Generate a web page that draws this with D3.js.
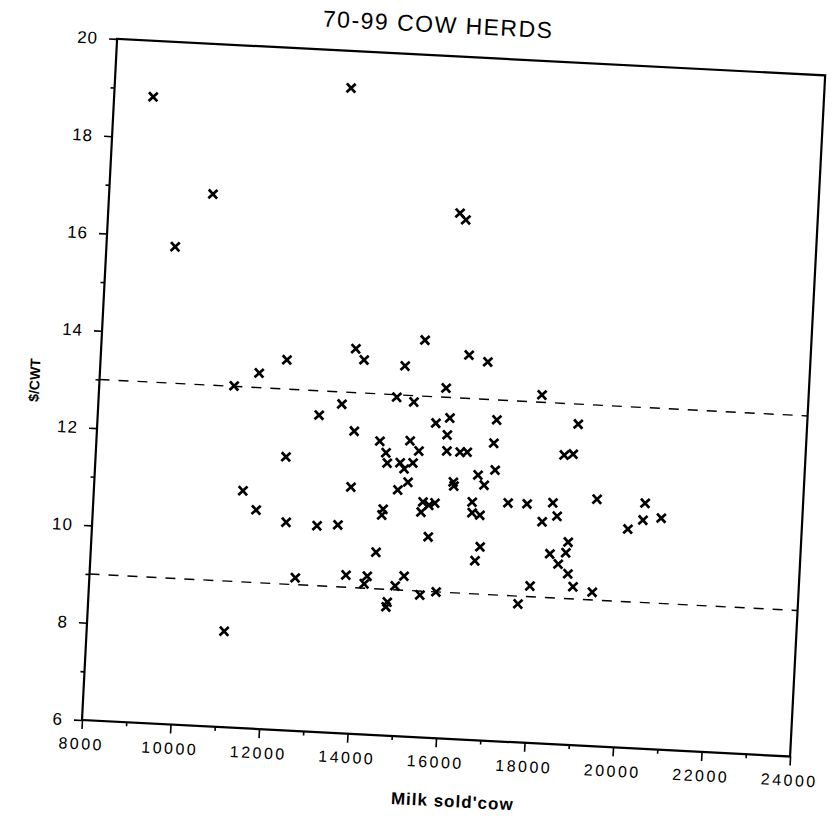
<!DOCTYPE html>
<html>
<head>
<meta charset="utf-8">
<script src="https://cdn.jsdelivr.net/npm/d3@7"></script>
<style>
  body { margin: 0; background: #fff; }
  svg { display: block; }
  text { font-family: "Liberation Sans", Arial, sans-serif; fill: #000; }
</style>
</head>
<body>
<div id="chart"></div>
<script>
// milk sold per cow (lbs) and $/CWT for each herd
const milkPerCow = [
  8880, 13330, 10340, 9550, 15930, 16070, 15290, 13740, 13940, 12200,
  11590, 14870, 16300, 16730, 11040, 15820, 14720, 15110, 17990, 13490,
  12990, 15940, 17000, 18840, 15630, 15900, 13800, 14390, 15070, 16960,
  15280, 15910, 16210, 16370, 14540, 12290, 18560, 18760, 14580, 14870,
  15160, 14970, 17020, 16640, 16790, 16090, 16110, 15070, 14850, 13790,
  11360, 11680, 14540, 14520, 15430, 15570, 15700, 15400, 16540, 16550,
  16730, 17350, 17780, 18360, 18470, 19350, 18140, 20440, 20410, 20820,
  20080, 12370, 13070, 13540, 15590, 16770, 16670, 18750, 18710, 18350,
  18550, 18780, 18910, 17940, 19350, 17690, 14430, 12640, 13780, 14260,
  14200, 15090, 14900, 15470, 15830, 14740, 14720, 11100
];
const dollarsPerCwt = [
  18.85, 19.24, 16.92, 15.80, 16.79, 16.66, 14.15, 13.90, 13.68, 13.60,
  13.30, 13.60, 13.89, 13.77, 13.01, 13.19, 12.95, 12.87, 13.15, 12.75,
  12.50, 12.58, 12.59, 12.59, 12.46, 12.23, 12.21, 12.03, 12.07, 12.11,
  11.87, 11.90, 11.89, 11.90, 11.80, 11.61, 11.94, 11.97, 11.59, 11.61,
  11.62, 11.49, 11.56, 11.44, 11.24, 11.27, 11.19, 11.22, 11.05, 11.06,
  10.87, 10.49, 10.64, 10.52, 10.83, 10.77, 10.82, 10.62, 10.88, 10.66,
  10.62, 10.90, 10.90, 10.95, 10.68, 11.07, 10.55, 11.04, 10.69, 10.75,
  10.49, 10.27, 10.23, 10.27, 10.12, 9.97, 9.68, 10.16, 9.94, 9.90,
  9.70, 9.51, 9.25, 9.22, 9.16, 8.84, 9.75, 9.14, 9.25, 9.25,
  9.09, 9.29, 9.08, 8.92, 9.00, 8.74, 8.64, 7.97
];
// dashed reference levels
const bandLevels = [9, 13];

const xTicks = [8000, 10000, 12000, 14000, 16000, 18000, 20000, 22000, 24000];
const xMinorTicks = [9000, 11000, 13000, 15000, 17000, 19000, 21000, 23000];
const yTicks = [6, 8, 10, 12, 14, 16, 18, 20];
const yMinorTicks = [7, 9, 11, 13, 15, 17, 19];

const titleText = "70-99 COW HERDS";
const xLabel = "Milk sold'cow";
const yLabel = "$/CWT";

const width = 833, height = 825;
const plotW = 709, plotH = 682;

const svg = d3.select('#chart')
  .append('svg')
  .attr('width', width)
  .attr('height', height);

// the scanned page sits a little crooked, so the whole plot is turned a bit
const g = svg.append('g')
  .attr('transform', 'translate(82,720) rotate(2.95)');

const xScale = d3.scaleLinear()
  .domain([8000, 24000])
  .range([0, plotW]);

const yScale = d3.scaleLinear()
  .domain([6, 20])
  .range([0, -plotH]);

// x axis, minor ticks first then the labelled ones
g.append('g')
  .call(d3.axisBottom(xScale).tickValues(xMinorTicks).tickSize(4).tickFormat(''))
  .call(a => a.select('.domain').remove());

const xAxis = g.append('g')
  .call(d3.axisBottom(xScale).tickValues(xTicks).tickSize(9).tickPadding(9).tickFormat(d3.format('d')));
xAxis.select('.domain').remove();
xAxis.selectAll('text')
  .attr('font-size', 16)
  .attr('letter-spacing', 2.5)
  .attr('font-family', '"Liberation Sans", Arial, sans-serif')
  .attr('fill', '#000');

// y axis
g.append('g')
  .call(d3.axisLeft(yScale).tickValues(yMinorTicks).tickSize(4).tickFormat(''))
  .call(a => a.select('.domain').remove());

const yAxis = g.append('g')
  .call(d3.axisLeft(yScale).tickValues(yTicks).tickSize(8).tickPadding(11));
yAxis.select('.domain').remove();
yAxis.selectAll('text')
  .attr('font-size', 17)
  .attr('letter-spacing', 1)
  .attr('font-family', '"Liberation Sans", Arial, sans-serif')
  .attr('fill', '#000');

g.selectAll('.tick line')
  .attr('stroke', '#000')
  .attr('stroke-width', 1.6);

// frame
g.append('rect')
  .attr('x', 0)
  .attr('y', -plotH)
  .attr('width', plotW)
  .attr('height', plotH)
  .attr('fill', 'none')
  .attr('stroke', '#000')
  .attr('stroke-width', 2.2);

// dashed band lines
g.selectAll('line.band')
  .data(bandLevels)
  .join('line')
  .attr('class', 'band')
  .attr('x1', xScale(8000))
  .attr('x2', xScale(24000))
  .attr('y1', d => yScale(d))
  .attr('y2', d => yScale(d))
  .attr('stroke', '#000')
  .attr('stroke-width', 1.4)
  .attr('stroke-dasharray', '10,9');

// the herds
const herds = milkPerCow.map((m, i) => ({ x: m, y: dollarsPerCwt[i] }));

g.selectAll('path.herd')
  .data(herds)
  .join('path')
  .attr('class', 'herd')
  .attr('transform', d => `translate(${xScale(d.x)},${yScale(d.y)})`)
  .attr('d', d3.symbol(d3.symbolTimes, 52))
  .attr('fill', 'none')
  .attr('stroke', '#000')
  .attr('stroke-width', 2.7);

// title and axis names
g.append('text')
  .attr('x', 320)
  .attr('y', -705)
  .attr('text-anchor', 'middle')
  .attr('font-size', 23)
  .attr('letter-spacing', 1.5)
  .text(titleText);

g.append('text')
  .attr('transform', 'translate(-60,-337) rotate(-90)')
  .attr('text-anchor', 'middle')
  .attr('font-size', 14)
  .attr('font-weight', 'bold')
  .text(yLabel);

g.append('text')
  .attr('x', 374)
  .attr('y', 68)
  .attr('text-anchor', 'middle')
  .attr('font-size', 17)
  .attr('font-weight', 'bold')
  .attr('letter-spacing', 1)
  .text(xLabel);
</script>
</body>
</html>
